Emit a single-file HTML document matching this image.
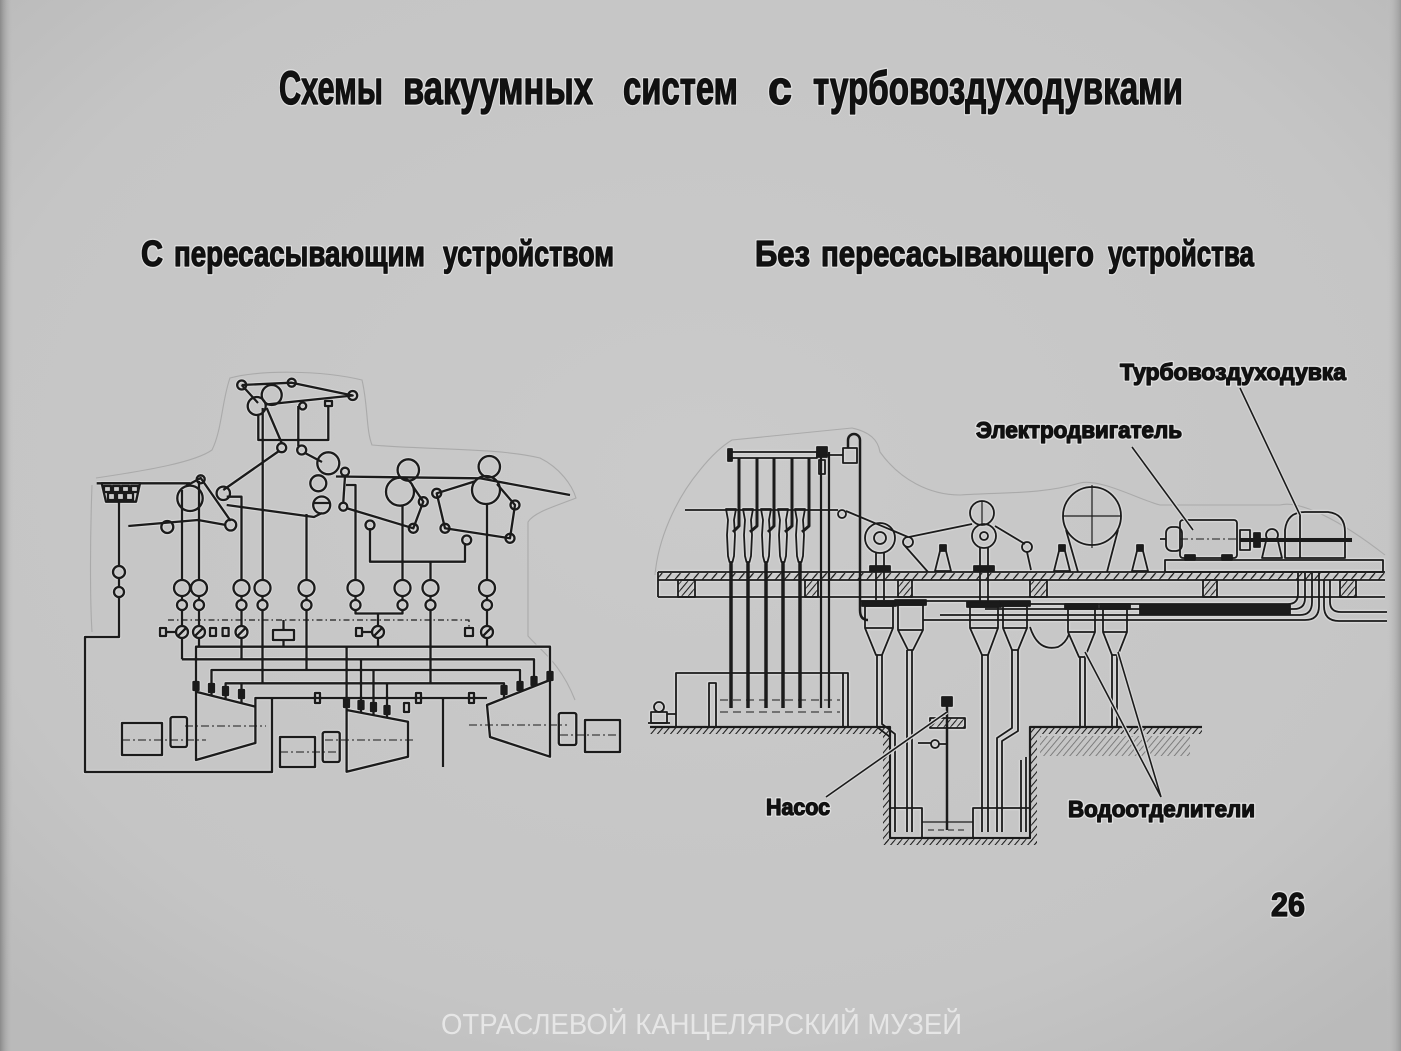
<!DOCTYPE html>
<html><head><meta charset="utf-8"><style>
html,body{margin:0;padding:0;background:#c7c7c7;}
svg{display:block;}
</style></head><body>
<svg xmlns="http://www.w3.org/2000/svg" xmlns:xlink="http://www.w3.org/1999/xlink" width="1401" height="1051" viewBox="0 0 1401 1051">
<defs>
<radialGradient id="bg" cx="50%" cy="45%" r="70%">
<stop offset="0" stop-color="#cacaca"/><stop offset="0.75" stop-color="#c5c5c5"/><stop offset="1" stop-color="#bababa"/>
</radialGradient>
<linearGradient id="edgeL" x1="0" x2="1" y1="0" y2="0"><stop offset="0" stop-color="#8a8a8a"/><stop offset="1" stop-color="#c4c4c4" stop-opacity="0"/></linearGradient>
<linearGradient id="edgeR" x1="0" x2="1" y1="0" y2="0"><stop offset="0" stop-color="#c4c4c4" stop-opacity="0"/><stop offset="1" stop-color="#9a9a9a"/></linearGradient>
<pattern id="hatch" width="5" height="5" patternUnits="userSpaceOnUse" patternTransform="rotate(40)"><line x1="0" y1="0" x2="0" y2="5" stroke="#1b1b1b" stroke-width="1.6"/></pattern>
<pattern id="hatch2" width="7" height="7" patternUnits="userSpaceOnUse" patternTransform="rotate(40)"><line x1="0" y1="0" x2="0" y2="7" stroke="#1b1b1b" stroke-width="2.2"/></pattern>

<g id="L">
<path d="M241.7,385 L291.7,382.7 L352.7,395.5 L266,404.5"/>
<path d="M241.7,385 L258,403"/>
<circle cx="241.7" cy="385" r="4.5"/><circle cx="291.7" cy="382.7" r="4"/><circle cx="352.7" cy="395.5" r="4.5"/>
<circle cx="271.7" cy="395" r="10"/><circle cx="256.7" cy="406" r="9"/>
<path d="M262.7,408 V580"/>
<path d="M258.3,414 V440 H328.3 V405"/>
<path d="M298.3,406 V446"/>
<circle cx="302.7" cy="406" r="3.5"/>
<rect x="325" y="401" width="7" height="5"/>
<circle cx="301.7" cy="450" r="4.5"/>
<path d="M266.7,408 L281.7,443"/>
<circle cx="281.7" cy="447.7" r="4.5"/>
<path d="M279,451 L223.3,490"/>
<path d="M305,453 L322,462"/>

<circle cx="328.3" cy="463.3" r="11"/><circle cx="318.3" cy="483.3" r="8"/><circle cx="321.7" cy="505" r="8.5"/>
<path d="M314,503 H330"/>
<circle cx="345" cy="471.7" r="4"/><circle cx="343.3" cy="506.7" r="4"/>
<path d="M345,476 L343.3,502"/>
<path d="M336,476.5 L480,478.3 L570,495"/>
<circle cx="408.3" cy="470" r="10.7"/><circle cx="400" cy="491.7" r="14"/>
<circle cx="489.3" cy="466.7" r="10.7"/><circle cx="486" cy="490" r="14"/>
<path d="M346,508 L413.3,528.3 L423.3,501.7 L412,485"/>
<circle cx="413.3" cy="528.3" r="4.5"/><circle cx="423.3" cy="501.7" r="4.5"/>
<path d="M476,481 L436.7,493.3 L445,528.3 L510,538.3 L515,505 L497,484"/>
<circle cx="436.7" cy="493.3" r="4.5"/><circle cx="445" cy="528.3" r="4.5"/><circle cx="510" cy="538.3" r="4.5"/><circle cx="515" cy="505" r="4.5"/>
<path d="M370,528 V561.7 H465 V543"/>
<circle cx="370" cy="525" r="4.5"/><circle cx="466.7" cy="540" r="4.5"/>
<path d="M430.5,561.7 V580"/>
<path d="M346,485 H355.5 V580"/>
<path d="M402.5,505 V580"/>
<path d="M487,504 V580"/>
<path d="M226.7,505 L314,517 L322,513"/>
<path d="M306.5,514 V580"/>

<path d="M96.7,483.3 H190"/>
<circle cx="190" cy="498.3" r="12.7"/><circle cx="200.7" cy="479.3" r="4"/>
<path d="M186,486 L200.7,478 L230.7,521"/>
<circle cx="230.7" cy="525" r="5.5"/><circle cx="223.3" cy="493.3" r="6.7"/>
<path d="M128.3,526 L198,520 L226,525"/>
<circle cx="167.3" cy="527" r="6"/>
<path d="M226.7,496.7 H241.5 V580"/>
<path d="M182,490 V580"/>
<path d="M199,481 V580"/>
<path d="M101.7,483.3 H140 L136,501.7 H106 Z"/>
<rect x="104" y="486" width="7" height="6"/><rect x="113" y="486" width="7" height="6"/><rect x="122" y="486" width="7" height="6"/><rect x="131" y="486" width="7" height="6"/>
<rect x="108" y="493" width="7" height="7"/><rect x="117" y="493" width="7" height="7"/><rect x="126" y="493" width="7" height="7"/>
<path d="M119,501.7 V566"/>
<circle cx="119" cy="572" r="6"/><circle cx="119" cy="592" r="5"/>
<path d="M119,578 V587 M119,597 V637 H85 V772 H272 V698"/>

<g>
<circle cx="182" cy="588" r="8"/><circle cx="182" cy="605" r="5"/><path d="M182,596 V600"/>
<circle cx="199" cy="588" r="8"/><circle cx="199" cy="605" r="5"/><path d="M199,596 V600"/>
<circle cx="241.5" cy="588" r="8"/><circle cx="241.5" cy="605" r="5"/><path d="M241.5,596 V600"/>
<circle cx="262.5" cy="588" r="8"/><circle cx="262.5" cy="605" r="5"/><path d="M262.5,596 V600"/>
<circle cx="306.5" cy="588" r="8"/><circle cx="306.5" cy="605" r="5"/><path d="M306.5,596 V600"/>
<circle cx="355.5" cy="588" r="8"/><circle cx="355.5" cy="605" r="5"/><path d="M355.5,596 V600"/>
<circle cx="402.5" cy="588" r="8"/><circle cx="402.5" cy="605" r="5"/><path d="M402.5,596 V600"/>
<circle cx="430.5" cy="588" r="8"/><circle cx="430.5" cy="605" r="5"/><path d="M430.5,596 V600"/>
<circle cx="487" cy="588" r="8"/><circle cx="487" cy="605" r="5"/><path d="M487,596 V600"/>
</g>
<path d="M182,610 V626 M182,638 V659.3"/>
<path d="M199,610 V626 M199,638 V646.7"/>
<path d="M241.5,610 V626 M241.5,638 V659.3"/>
<path d="M262.5,610 V683.3"/>
<path d="M306.5,610 V670"/>
<path d="M355.5,610 V613.5 H402.5 V610 M378,613.5 V626 M378,638 V646.7"/>
<path d="M430.5,610 V683.3"/>
<path d="M487,610 V626 M487,638 V646.7"/>
<circle cx="182" cy="632" r="6"/><circle cx="199" cy="632" r="6"/><circle cx="241.5" cy="632" r="6"/><circle cx="378" cy="632" r="6"/><circle cx="487" cy="632" r="6"/>
<path d="M178,636 L186,628 M195,636 L203,628 M237.5,636 L245.5,628 M374,636 L382,628 M483,636 L491,628"/>
<path d="M168,620 H469 V627" stroke-dasharray="6 3 1.5 3" stroke-width="1.3"/>
<rect x="160" y="628" width="6" height="8"/><path d="M166,632 H176"/>
<rect x="210" y="628" width="6" height="8"/><rect x="222.6" y="628" width="6" height="8"/>
<rect x="356" y="628" width="6" height="8"/><path d="M362,632 H372"/>
<rect x="465" y="628" width="8" height="8"/>
<rect x="273" y="630" width="21" height="10"/><path d="M283.5,620 V630 M283.5,640 V646.7"/>

<path d="M196,691.7 V646.7 H550 V680"/>
<path d="M182,659.3 H534 V686.3"/>
<path d="M211.5,695.6 V670 H520 V692"/>
<path d="M225.6,699.2 V683.3 H504 V698.3"/>
<path d="M241.5,683.3 V703"/>
<path d="M346.6,646.7 V710 M361,659.3 V713 M373.5,670 V716 M387,683.3 V718.5"/>
<path d="M255.4,706.7 V698 H487"/>
<rect x="315" y="693" width="5" height="10"/><rect x="416" y="693" width="5" height="10"/><rect x="469" y="693" width="5" height="10"/><rect x="404" y="703" width="5" height="9"/>
<path d="M443,698 V767"/>
<path d="M196,691.7 L255.4,706.7 V743 L196,760 Z"/>
<path d="M346.6,710 L408,721.7 V756.7 L346.6,771.7 Z"/>
<path d="M487,705 L550,680 V756.7 L490,737 Z"/>
<rect x="122" y="723" width="40" height="32"/><rect x="170.5" y="717" width="16.5" height="30" rx="2"/>
<rect x="280" y="737" width="35" height="30"/><rect x="322.7" y="732" width="17" height="30" rx="2"/>
<rect x="558.8" y="713" width="17.5" height="32" rx="2"/><rect x="585" y="720" width="35" height="32"/>
<path d="M185,726 H266 M122,740 H206 M325,740 H413 M280,752 H340 M469,725 H567 M560,735 H620" stroke-dasharray="8 3 2 3" stroke-width="1"/>
<g fill="#1b1b1b">
<rect x="193.5" y="682" width="5" height="8"/><rect x="209" y="684" width="5" height="8"/><rect x="223" y="687" width="5" height="8"/><rect x="239" y="690" width="5" height="8"/>
<rect x="501.5" y="686" width="5" height="8"/><rect x="517.5" y="682" width="5" height="8"/><rect x="531.5" y="677" width="5" height="8"/><rect x="547.5" y="672" width="5" height="8"/>
<rect x="344" y="699" width="5" height="8"/><rect x="358.5" y="701" width="5" height="8"/><rect x="371" y="703" width="5" height="8"/><rect x="384.5" y="706" width="5" height="8"/>
</g>
</g>

<g id="R">
<rect x="731" y="452" width="86" height="6"/>
<rect x="728" y="449" width="4" height="12" fill="#1b1b1b"/>
<path d="M739,458 V526 L733,532 M757,458 V526 L750,532 M774,458 V526 L768,532 M792,458 V526 L785,532 M809,458 V526 L802,532" stroke-width="3"/>
<path d="M726,509 H736 L734,520 L735,535 L734,556 L732.5,562 H729.5 L728,556 L727,535 L728,520 Z"/>
<path d="M743,509 H753 L751,520 L752,535 L751,556 L749.5,562 H746.5 L745,556 L744,535 L745,520 Z"/>
<path d="M761,509 H771 L769,520 L770,535 L769,556 L767.5,562 H764.5 L763,556 L762,535 L763,520 Z"/>
<path d="M778,509 H788 L786,520 L787,535 L786,556 L784.5,562 H781.5 L780,556 L779,535 L780,520 Z"/>
<path d="M795,509 H805 L803,520 L804,535 L803,556 L801.5,562 H798.5 L797,556 L796,535 L797,520 Z"/>
<path d="M731,562 V708 M748,562 V708 M766,562 V708 M783,562 V708 M800,562 V708" stroke-width="3.5"/>
<path d="M821,452 V708 M829,452 V708" stroke-width="2.2"/>
<rect x="817" y="447" width="10" height="10" fill="#1b1b1b"/><rect x="819" y="460" width="6" height="14"/>
<path d="M817,455 H843"/>
<rect x="843" y="448" width="14" height="15"/>
<path d="M848,448 V440 A6,6 0 0 1 860,440 V610 Q860,620 868,620" stroke-width="2.5"/>
<path d="M685,510 H838"/>
<circle cx="842" cy="514" r="4"/>
<path d="M846,511 L908,537"/>
<circle cx="908" cy="542" r="5"/>
<path d="M909,537 L972,524 M905,546 L928,572"/>
<circle cx="880" cy="538" r="15"/><circle cx="880" cy="538" r="6"/>
<path d="M876,553 V600 M884,553 V600"/>
<rect x="870" y="566" width="20" height="5" fill="#1b1b1b"/>
<circle cx="982" cy="513" r="12"/><circle cx="984" cy="536" r="12"/><circle cx="984" cy="536" r="4"/>
<path d="M982,501 V525" stroke-width="1.2"/>
<path d="M980,548 V603 M988,548 V603"/>
<rect x="974" y="566" width="20" height="5" fill="#1b1b1b"/>
<path d="M995,526 L1025,544"/>
<circle cx="1027" cy="547" r="5"/>
<path d="M1027,552 L1031,570"/>
<rect x="940" y="545" width="6" height="6" fill="#1b1b1b"/><path d="M940,551 L935,571 H951 L946,551"/>
<rect x="1059" y="545" width="6" height="6" fill="#1b1b1b"/><path d="M1059,551 L1054,571 H1070 L1065,551"/>
<rect x="1137" y="545" width="6" height="6" fill="#1b1b1b"/><path d="M1137,551 L1132,571 H1148 L1143,551"/>
<circle cx="1092" cy="516" r="29"/>
<path d="M1063,516 H1121 M1092,485 V548" stroke-width="1.2"/>
<path d="M1066,530 L1078,572 M1118,530 L1107,572"/>
<rect x="1180" y="520" width="57" height="38" rx="3"/>
<rect x="1166" y="527" width="16" height="24" rx="6"/>
<path d="M1160,539 H1166"/>
<rect x="1185" y="555" width="10" height="5" fill="#1b1b1b"/><rect x="1222" y="555" width="10" height="5" fill="#1b1b1b"/>
<path d="M1180,539 H1237" stroke-dasharray="8 3 2 3" stroke-width="1"/>
<rect x="1240" y="530" width="10" height="20"/>
<rect x="1254" y="533" width="6" height="14" fill="#1b1b1b"/>
<path d="M1262,558 L1266,541 H1278 L1282,558 Z"/>
<circle cx="1272" cy="535" r="6"/>
<path d="M1285,558 V530 Q1287,512 1305,512 H1328 Q1345,514 1345,532 V558 Z"/>
<path d="M1300,513 V558"/>
<path d="M1240,540 H1352" stroke-width="4"/>
<rect x="1165" y="560" width="218" height="12"/>
<rect x="658" y="573" width="727" height="7" fill="url(#hatch2)" stroke="none"/>
<path d="M658,572 H1385 M658,580 H1385 M658,597 H1385 M658,572 V597"/>
<rect x="678" y="580" width="17" height="17" fill="url(#hatch)"/>
<rect x="805" y="580" width="13" height="17" fill="url(#hatch)"/>
<rect x="898" y="580" width="14" height="17" fill="url(#hatch)"/>
<rect x="1030" y="580" width="17" height="17" fill="url(#hatch)"/>
<rect x="1203" y="580" width="14" height="17" fill="url(#hatch)"/>
<rect x="1340" y="580" width="16" height="17" fill="url(#hatch)"/>
<path d="M860,601 H1000"/>
<path d="M1000,604 H1288 Q1298,604 1298,594 V573"/>
<path d="M985,609 H1294 Q1305,609 1305,598 V573"/>
<path d="M940,615 H1300 Q1312,615 1312,602 V573"/>
<path d="M923,620 H1305 Q1319,620 1319,606 V573"/>
<rect x="1140" y="605" width="150" height="9" fill="#1b1b1b"/>
<path d="M1330,580 V602 Q1330,612 1341,612 H1387"/>
<path d="M1324,580 V606 Q1324,621 1339,621 H1387"/>
<rect x="862" y="601" width="34" height="5" fill="#1b1b1b"/>
<path d="M865,606 H893 V628 L882,655 H876 L865,628 Z M865,628 H893"/>
<path d="M877,655 V727 L890,737 V832 M882,655 V724 L895,734 V832"/>
<rect x="895" y="600" width="31" height="5" fill="#1b1b1b"/>
<path d="M898,605 H923 V630 L913,650 H908 L898,630 Z M898,630 H923"/>
<path d="M907,650 V832 M912,650 V832"/>
<rect x="967" y="602" width="34" height="5" fill="#1b1b1b"/>
<path d="M970,607 H998 V628 L988,655 H982 L970,628 Z M970,628 H998"/>
<path d="M982,655 V832 M988,655 V832"/>
<rect x="1000" y="601" width="30" height="5" fill="#1b1b1b"/>
<path d="M1003,606 H1027 V628 L1018,650 H1012 L1003,628 Z M1003,628 H1027"/>
<path d="M1012,650 V728 L997,738 V832 M1018,650 V731 L1002,741 V832"/>
<path d="M1021,760 V832 M1026,757 V832"/>
<rect x="1065" y="604" width="33" height="5" fill="#1b1b1b"/>
<path d="M1068,609 H1095 V632 L1085,657 H1079 L1068,632 Z M1068,632 H1095"/>
<path d="M1080,657 V727 M1085,657 V727"/>
<rect x="1100" y="604" width="30" height="5" fill="#1b1b1b"/>
<path d="M1103,609 H1127 V632 L1118,655 H1112 L1103,632 Z M1103,632 H1127"/>
<path d="M1112,655 V727 M1117,655 V727"/>
<path d="M1030,627 Q1038,652 1058,647 Q1066,643 1069,634"/>
<path d="M676,727 V673 H848 V727"/>
<path d="M709,727 V683 H716 V727 M843,673 V727"/>
<path d="M720,700 H840 M720,712 H840" stroke-dasharray="8 5" stroke-width="1"/>
<rect x="651" y="712" width="16" height="11"/>
<circle cx="659" cy="707" r="5"/>
<path d="M667,714 H676 M648,723 H670"/>
<path d="M650,727 H890 V838 H1030 V727 H1202" stroke-width="2.2"/>
<rect x="650" y="728" width="233" height="6" fill="url(#hatch)" stroke="none"/>
<rect x="883" y="728" width="6" height="116" fill="url(#hatch)" stroke="none"/>
<rect x="1031" y="728" width="6" height="116" fill="url(#hatch)" stroke="none"/>
<rect x="883" y="839" width="154" height="6" fill="url(#hatch)" stroke="none"/>
<rect x="1037" y="728" width="165" height="6" fill="url(#hatch)" stroke="none"/>
<rect x="1040" y="736" width="150" height="20" fill="url(#hatch)" stroke="none" opacity="0.3"/>
<path d="M947,705 V830" stroke-width="2.5"/>
<rect x="930" y="718" width="35" height="10" fill="url(#hatch)"/>
<rect x="942" y="697" width="10" height="9" fill="#1b1b1b"/>
<circle cx="935" cy="744" r="4"/><path d="M939,744 H947 M918,743 H931"/>
<rect x="890" y="808" width="32" height="30"/>
<rect x="973" y="808" width="57" height="30"/>
<path d="M922,822 H973" stroke-width="1.2"/>
<path d="M928,830 H968" stroke-dasharray="6 4" stroke-width="1"/>
</g>

<g id="T">
<text x="279" y="104" font-size="47" textLength="104" lengthAdjust="spacingAndGlyphs">Схемы</text>
<text x="403" y="104" font-size="47" textLength="190" lengthAdjust="spacingAndGlyphs">вакуумных</text>
<text x="623" y="104" font-size="47" textLength="115" lengthAdjust="spacingAndGlyphs">систем</text>
<text x="768" y="104" font-size="47" textLength="24" lengthAdjust="spacingAndGlyphs">с</text>
<text x="813" y="104" font-size="47" textLength="370" lengthAdjust="spacingAndGlyphs">турбовоздуходувками</text>
<text x="141" y="266" font-size="36" textLength="22" lengthAdjust="spacingAndGlyphs">С</text>
<text x="174" y="266" font-size="36" textLength="251" lengthAdjust="spacingAndGlyphs">пересасывающим</text>
<text x="443" y="266" font-size="36" textLength="171" lengthAdjust="spacingAndGlyphs">устройством</text>
<text x="755" y="266" font-size="36" textLength="55" lengthAdjust="spacingAndGlyphs">Без</text>
<text x="821" y="266" font-size="36" textLength="273" lengthAdjust="spacingAndGlyphs">пересасывающего</text>
<text x="1108" y="266" font-size="36" textLength="146" lengthAdjust="spacingAndGlyphs">устройства</text>
<text x="1120" y="380" font-size="23" textLength="226" lengthAdjust="spacingAndGlyphs">Турбовоздуходувка</text>
<text x="976" y="438" font-size="23" textLength="206" lengthAdjust="spacingAndGlyphs">Электродвигатель</text>
<text x="766" y="815" font-size="23" textLength="64" lengthAdjust="spacingAndGlyphs">Насос</text>
<text x="1068" y="817" font-size="23" textLength="187" lengthAdjust="spacingAndGlyphs">Водоотделители</text>
<text x="1271" y="916" font-size="33" textLength="34" lengthAdjust="spacingAndGlyphs">26</text>
</g>
</defs>

<rect x="0" y="0" width="1401" height="1051" fill="url(#bg)"/>
<rect x="0" y="0" width="14" height="1051" fill="url(#edgeL)"/>
<rect x="1386" y="0" width="15" height="1051" fill="url(#edgeR)"/>

<g fill="none" stroke="#aaaaaa" stroke-width="1.1">
<path d="M96,478 C150,470 195,462 212,450 C222,430 222,400 230,378 C260,370 320,370 362,380 C368,405 366,430 372,445 C430,450 500,448 540,458 C560,468 572,485 576,498 C556,506 534,512 528,522 V636 C540,650 560,662 575,700"/>
<path d="M92,485 C90,540 90,600 92,632"/>
<path d="M655,575 C658,540 675,500 700,470 C712,455 722,446 732,440 L852,428 C870,432 878,440 880,452 C900,480 930,495 960,495 C1000,492 1040,495 1080,483 C1100,478 1140,500 1160,505 L1280,505 C1300,500 1340,520 1385,555"/>
</g>

<g fill="none" stroke="#d6d6d6" stroke-width="4.5" stroke-linejoin="round"><use xlink:href="#L"/><use xlink:href="#R"/></g>
<g fill="none" stroke="#1b1b1b" stroke-width="2.3" stroke-linejoin="round"><use xlink:href="#L"/></g>
<g fill="none" stroke="#1b1b1b" stroke-width="1.8" stroke-linejoin="round"><use xlink:href="#R"/></g>

<g stroke="#d6d6d6" stroke-width="4" fill="none">
<path d="M826,797 L947,712 M1161,797 L1085,652 M1161,797 L1118,652 M1132,447 L1193,530 M1240,388 L1300,515"/>
</g>
<g stroke="#1b1b1b" stroke-width="1.6" fill="none">
<path d="M826,797 L947,712 M1161,797 L1085,652 M1161,797 L1118,652 M1132,447 L1193,530 M1240,388 L1300,515"/>
</g>

<g font-family="'Liberation Sans','DejaVu Sans',sans-serif" font-weight="bold" fill="#dedede" stroke="#dedede" stroke-width="4" stroke-linejoin="round"><use xlink:href="#T"/></g>
<g font-family="'Liberation Sans','DejaVu Sans',sans-serif" font-weight="bold" fill="#111" stroke="#111" stroke-width="1.3" stroke-linejoin="round"><use xlink:href="#T"/></g>

<text x="441" y="1034" font-family="'Liberation Sans','DejaVu Sans',sans-serif" font-size="29" fill="#e6e6e6" textLength="521" lengthAdjust="spacingAndGlyphs">ОТРАСЛЕВОЙ КАНЦЕЛЯРСКИЙ МУЗЕЙ</text>
</svg>
</body></html>
